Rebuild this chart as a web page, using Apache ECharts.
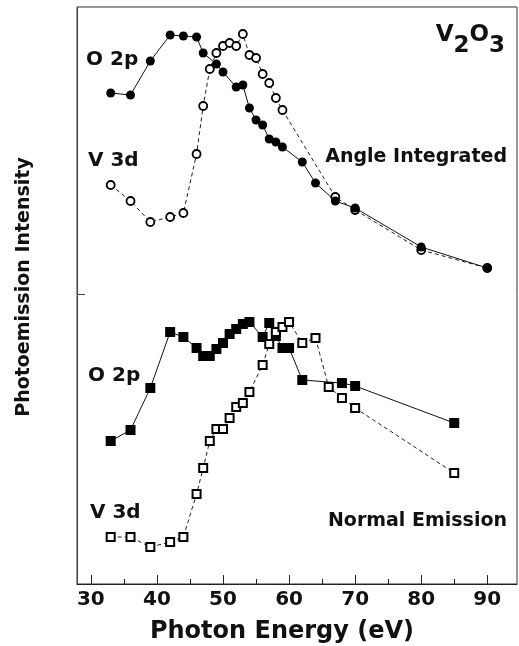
<!DOCTYPE html>
<html>
<head>
<meta charset="utf-8">
<script src="https://cdn.jsdelivr.net/npm/echarts@6/dist/echarts.min.js"></script>
<style>
html,body{margin:0;padding:0;background:#fff;}
#chart{width:519px;height:646px;}
</style>
</head>
<body>
<div id="chart"></div>
<script>
// Photon energies (eV) and intensities (arbitrary units)
const aiO2pE = [33,36,39,42,44,46,47,49,50,52,53,54,55,56,57,58,59,62,64,67,70,80,90];
const aiO2pI = [491,489,523,549,548,547,531,520,512,497,499,476,464,459,445,442,437,422,401,383,376,337,316];

const aiV3dE = [33,36,39,42,44,46,47,48,49,50,51,52,53,54,55,56,57,58,59,67,70,80,90];
const aiV3dI = [399,383,362,367,371,430,478,515,531,538,541,538,550,529,526,510,501,486,474,387,374,334,316];

const neO2pE = [33,36,39,42,44,46,47,48,49,50,51,52,53,54,56,57,58,59,60,62,68,70,85];
const neO2pI = [143,154,196,252,247,236,228,228,235,241,250,255,260,262,247,261,248,236,236,204,201,198,161];

const neV3dE = [33,36,39,42,44,46,47,48,49,50,51,52,53,54,56,57,58,59,60,62,64,66,68,70,85];
const neV3dI = [47,47,37,42,47,90,116,143,155,155,166,177,181,192,219,240,252,257,262,241,246,197,186,176,111];

const xMajorTicks = [30,40,50,60,70,80,90];
const xMinorTicks = [35,45,55,65,75,85];
const ySplitTick = [290];

const zip = (xs, ys) => xs.map((x, i) => [x, ys[i]]);

const chart = echarts.init(document.getElementById('chart'));
const F = '"DejaVu Sans", sans-serif';
const solidLine = {color:'#111', width:1, type:'solid'};
const dashLine = {color:'#222', width:1, type:[4,3]};

chart.setOption({
  animation:false,
  backgroundColor:'#fff',
  grid:{left:77, top:7, right:2, bottom:62, show:true, borderColor:'#333', borderWidth:1},
  xAxis:[{
    type:'value', min:27.9, max:94.5,
    axisLine:{show:true, lineStyle:{color:'#222', width:1}},
    axisTick:{show:true, inside:true, length:9, customValues:xMajorTicks, lineStyle:{color:'#222', width:1}},
    axisLabel:{show:true, customValues:xMajorTicks, margin:6, fontFamily:F, fontWeight:'bold', fontSize:20, color:'#111'},
    splitLine:{show:false}
  },{
    type:'value', min:27.9, max:94.5, position:'bottom',
    axisLine:{show:false},
    axisTick:{show:true, inside:true, length:5, customValues:xMinorTicks, lineStyle:{color:'#222', width:1}},
    axisLabel:{show:false},
    splitLine:{show:false}
  }],
  yAxis:{
    type:'value', min:0, max:577,
    axisLine:{show:true, lineStyle:{color:'#444', width:1}},
    axisTick:{show:true, inside:true, length:8, customValues:ySplitTick, lineStyle:{color:'#444', width:1}},
    axisLabel:{show:false},
    splitLine:{show:false}
  },
  series:[
    {type:'line', name:'AI V 3d', data:zip(aiV3dE, aiV3dI), symbol:'circle', symbolSize:8,
     lineStyle:dashLine, itemStyle:{color:'#fff', borderColor:'#000', borderWidth:1.8}, z:2},
    {type:'line', name:'AI O 2p', data:zip(aiO2pE, aiO2pI), symbol:'circle', symbolSize:9,
     lineStyle:solidLine, itemStyle:{color:'#000', borderColor:'#000', borderWidth:0}, z:3},
    {type:'line', name:'NE O 2p', data:zip(neO2pE, neO2pI), symbol:'rect', symbolSize:10,
     lineStyle:solidLine, itemStyle:{color:'#000', borderColor:'#000', borderWidth:0}, z:2},
    {type:'line', name:'NE V 3d', data:zip(neV3dE, neV3dI), symbol:'rect', symbolSize:8,
     lineStyle:dashLine, itemStyle:{color:'#fff', borderColor:'#000', borderWidth:2}, z:3}
  ],
  graphic:[
    {type:'text', left:null, x:505, y:24, style:{
      text:'{n|V}{s|2}{n|O}{s|3}', align:'right', verticalAlign:'top', fill:'#111',
      rich:{
        n:{fontFamily:F, fontWeight:'bold', fontSize:23, lineHeight:20, verticalAlign:'top', color:'#111'},
        s:{fontFamily:F, fontWeight:'bold', fontSize:23, lineHeight:34, verticalAlign:'bottom', color:'#111'}
      }}},
    {type:'text', x:86, y:60, style:{text:'O 2p', font:'bold 20px '+F, fill:'#111', align:'left', verticalAlign:'middle'}},
    {type:'text', x:88, y:161, style:{text:'V 3d', font:'bold 20px '+F, fill:'#111', align:'left', verticalAlign:'middle'}},
    {type:'text', x:507, y:157, style:{text:'Angle Integrated', font:'bold 19px '+F, fill:'#111', align:'right', verticalAlign:'middle'}},
    {type:'text', x:88, y:376, style:{text:'O 2p', font:'bold 20px '+F, fill:'#111', align:'left', verticalAlign:'middle'}},
    {type:'text', x:90, y:513, style:{text:'V 3d', font:'bold 20px '+F, fill:'#111', align:'left', verticalAlign:'middle'}},
    {type:'text', x:507, y:521, style:{text:'Normal Emission', font:'bold 19px '+F, fill:'#111', align:'right', verticalAlign:'middle'}},
    {type:'text', x:282, y:632, style:{text:'Photon Energy (eV)', font:'bold 24px '+F, fill:'#111', align:'center', verticalAlign:'middle'}},
    {type:'text', x:24, y:287, rotation:Math.PI/2, style:{text:'Photoemission Intensity', font:'bold 19px '+F, fill:'#111', align:'center', verticalAlign:'middle'}}
  ]
});
</script>
</body>
</html>
